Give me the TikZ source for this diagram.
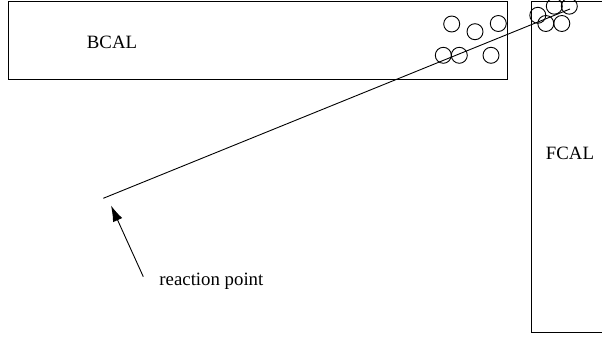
\documentclass[tikz,border=0pt]{standalone}
\usepackage{fontspec}
\setmainfont{Liberation Serif}
\usetikzlibrary{arrows.meta}
\begin{document}
\begin{tikzpicture}[x=1pt,y=-1pt,line width=0.9pt,
  detector/.style={draw,line width=0.9pt},
  hit/.style={draw,circle,minimum size=16pt,inner sep=0pt,line width=0.9pt},
  lbl/.style={font=\fontsize{18.8}{21}\selectfont,inner sep=0pt}]
\useasboundingbox (0,0) rectangle (602,337);
% calorimeter modules
\draw[detector] (8.5,1) rectangle (507,79);
\draw[detector] (531,1) rectangle (604,332);
\node[lbl] (bcal) at (112,42) {BCAL};
\node[lbl] (fcal) at (570,153) {FCAL};
% shower hits in BCAL
\foreach \n/\p in {b1/{451.7,24}, b2/{475,31.7}, b3/{498.3,23.5},
                   b4/{443.3,55.3}, b5/{459.3,55.3}, b6/{491,55.3}}
  \node[hit] (\n) at (\p) {};
% shower hits in FCAL
\foreach \n/\p in {f1/{537.8,15.3}, f2/{554.3,6.2}, f3/{569.3,6.2},
                   f4/{545.8,23.5}, f5/{561.8,23.5}}
  \node[hit] (\n) at (\p) {};
% particle track from the vertex
\coordinate (vtx) at (103.3,198.3);
\coordinate (trackend) at (570,9);
\draw (vtx) -- (trackend);
% vertex annotation
\node[lbl,anchor=west] (rp) at (159,281) {reaction point};
\coordinate (arrtail) at (143.3,276.7);
\coordinate (arrtip) at (111,205.5);
\draw[-{Latex[length=16pt,width=10pt]}] (arrtail) -- (arrtip);
\end{tikzpicture}
\end{document}
